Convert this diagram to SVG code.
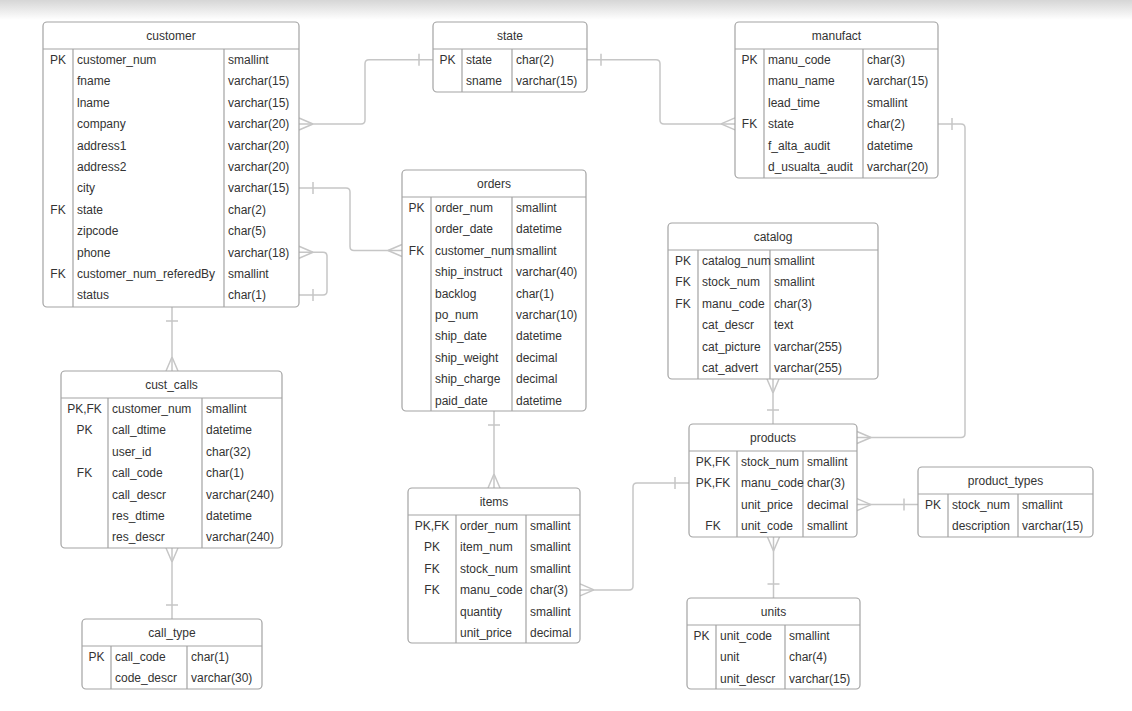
<svg xmlns="http://www.w3.org/2000/svg" width="1132" height="711" viewBox="0 0 1132 711">
  <defs>
    <linearGradient id="topShade" x1="0" y1="0" x2="0" y2="1">
      <stop offset="0" stop-color="#d6d6d6"/>
      <stop offset="1" stop-color="#ffffff"/>
    </linearGradient>
    <!-- crow's foot (many) : path end sits on the table edge -->
    <marker id="many" markerUnits="userSpaceOnUse" orient="auto-start-reverse" refX="0" refY="0" markerWidth="20" markerHeight="16" viewBox="-16 -8 20 16" overflow="visible">
      <path d="M-14,0 L0,-6 M-14,0 L0,6" fill="none" stroke="#c6c6c6" stroke-width="1.5"/>
    </marker>
    <!-- single bar (one) -->
    <marker id="one" markerUnits="userSpaceOnUse" orient="auto-start-reverse" refX="0" refY="0" markerWidth="20" markerHeight="16" viewBox="-16 -8 20 16" overflow="visible">
      <path d="M-14,-6 L-14,6" fill="none" stroke="#c6c6c6" stroke-width="1.5"/>
    </marker>
  </defs>
  <style>
    text { font-family: "Liberation Sans", Arial, sans-serif; font-size: 12px; fill: #333333; }
    .box { fill: #ffffff; stroke: #a3a3a3; stroke-width: 1.2; }
    .sep { stroke: #a3a3a3; stroke-width: 1.2; fill: none; }
    .hd { text-anchor: middle; }
    .k { text-anchor: middle; }
    .link { fill: none; stroke: #c6c6c6; stroke-width: 1.5; marker-start: url(#many); marker-end: url(#one); }
    .one-many { marker-start: url(#one); marker-end: url(#many); }
  </style>

  <rect x="0" y="0" width="1132" height="711" fill="#ffffff"/>
  <rect x="0" y="0" width="1132" height="20" fill="url(#topShade)"/>

  <!-- relationships -->
  <g id="connectors">
    <path class="link" d="M299,124 H361 Q365,124 365,120 V63.7 Q365,59.7 369,59.7 H433"/>
    <path class="link one-many" d="M587,59.7 H656 Q660,59.7 660,63.7 V119.9 Q660,123.9 664,123.9 H735"/>
    <path class="link one-many" d="M299,188.1 H346 Q350,188.1 350,192.1 V246.5 Q350,250.5 354,250.5 H402"/>
    <path class="link" d="M299,252.3 H323 Q327,252.3 327,256.3 V291.1 Q327,295.1 323,295.1 H299"/>
    <path class="link one-many" d="M172,307 V371"/>
    <path class="link" d="M172,548 V619"/>
    <path class="link one-many" d="M494,411 V488"/>
    <path class="link" d="M580,589.9 H629 Q633,589.9 633,585.9 V487.1 Q633,483.1 637,483.1 H689"/>
    <path class="link" d="M773,379 V424"/>
    <path class="link one-many" d="M938,123.9 H961 Q965,123.9 965,127.9 V433.5 Q965,437.5 961,437.5 H857"/>
    <path class="link" d="M857,504.6 H918"/>
    <path class="link" d="M773.5,537 V598"/>
  </g>

  <!-- customer -->
  <g id="customer">
    <rect class="box" x="43" y="22" width="256" height="285" rx="4"/>
    <path class="sep" d="M43,49 H299 M73,49 V307 M224,49 V307"/>
    <text class="hd" x="171" y="40">customer</text>
    <text class="k" x="58" y="64">PK</text>
    <text class="k" x="58" y="213.8">FK</text>
    <text class="k" x="58" y="278">FK</text>
    <text x="77" y="64">customer_num</text>
    <text x="77" y="85.4">fname</text>
    <text x="77" y="106.8">lname</text>
    <text x="77" y="128.2">company</text>
    <text x="77" y="149.6">address1</text>
    <text x="77" y="171">address2</text>
    <text x="77" y="192.4">city</text>
    <text x="77" y="213.8">state</text>
    <text x="77" y="235.2">zipcode</text>
    <text x="77" y="256.6">phone</text>
    <text x="77" y="278">customer_num_referedBy</text>
    <text x="77" y="299.4">status</text>
    <text x="228" y="64">smallint</text>
    <text x="228" y="85.4">varchar(15)</text>
    <text x="228" y="106.8">varchar(15)</text>
    <text x="228" y="128.2">varchar(20)</text>
    <text x="228" y="149.6">varchar(20)</text>
    <text x="228" y="171">varchar(20)</text>
    <text x="228" y="192.4">varchar(15)</text>
    <text x="228" y="213.8">char(2)</text>
    <text x="228" y="235.2">char(5)</text>
    <text x="228" y="256.6">varchar(18)</text>
    <text x="228" y="278">smallint</text>
    <text x="228" y="299.4">char(1)</text>
  </g>

  <!-- state -->
  <g id="state">
    <rect class="box" x="433" y="22" width="154" height="70" rx="4"/>
    <path class="sep" d="M433,49 H587 M462,49 V92 M512,49 V92"/>
    <text class="hd" x="510" y="40">state</text>
    <text class="k" x="447.5" y="64">PK</text>
    <text x="466" y="64">state</text>
    <text x="466" y="85.4">sname</text>
    <text x="516" y="64">char(2)</text>
    <text x="516" y="85.4">varchar(15)</text>
  </g>

  <!-- manufact -->
  <g id="manufact">
    <rect class="box" x="735" y="22" width="203" height="156" rx="4"/>
    <path class="sep" d="M735,49 H938 M764,49 V178 M863,49 V178"/>
    <text class="hd" x="836.5" y="40">manufact</text>
    <text class="k" x="749.5" y="64">PK</text>
    <text class="k" x="749.5" y="128.2">FK</text>
    <text x="768" y="64">manu_code</text>
    <text x="768" y="85.4">manu_name</text>
    <text x="768" y="106.8">lead_time</text>
    <text x="768" y="128.2">state</text>
    <text x="768" y="149.6">f_alta_audit</text>
    <text x="768" y="171">d_usualta_audit</text>
    <text x="867" y="64">char(3)</text>
    <text x="867" y="85.4">varchar(15)</text>
    <text x="867" y="106.8">smallint</text>
    <text x="867" y="128.2">char(2)</text>
    <text x="867" y="149.6">datetime</text>
    <text x="867" y="171">varchar(20)</text>
  </g>

  <!-- orders -->
  <g id="orders">
    <rect class="box" x="402" y="170" width="184" height="241" rx="4"/>
    <path class="sep" d="M402,197 H586 M431,197 V411 M512,197 V411"/>
    <text class="hd" x="494" y="188">orders</text>
    <text class="k" x="416.5" y="212">PK</text>
    <text class="k" x="416.5" y="254.8">FK</text>
    <text x="435" y="212">order_num</text>
    <text x="435" y="233.4">order_date</text>
    <text x="435" y="254.8">customer_num</text>
    <text x="435" y="276.2">ship_instruct</text>
    <text x="435" y="297.6">backlog</text>
    <text x="435" y="319">po_num</text>
    <text x="435" y="340.4">ship_date</text>
    <text x="435" y="361.8">ship_weight</text>
    <text x="435" y="383.2">ship_charge</text>
    <text x="435" y="404.6">paid_date</text>
    <text x="516" y="212">smallint</text>
    <text x="516" y="233.4">datetime</text>
    <text x="516" y="254.8">smallint</text>
    <text x="516" y="276.2">varchar(40)</text>
    <text x="516" y="297.6">char(1)</text>
    <text x="516" y="319">varchar(10)</text>
    <text x="516" y="340.4">datetime</text>
    <text x="516" y="361.8">decimal</text>
    <text x="516" y="383.2">decimal</text>
    <text x="516" y="404.6">datetime</text>
  </g>

  <!-- catalog -->
  <g id="catalog">
    <rect class="box" x="668" y="223" width="210" height="156" rx="4"/>
    <path class="sep" d="M668,250 H878 M698,250 V379 M770,250 V379"/>
    <text class="hd" x="773" y="241">catalog</text>
    <text class="k" x="683" y="265">PK</text>
    <text class="k" x="683" y="286.4">FK</text>
    <text class="k" x="683" y="307.8">FK</text>
    <text x="702" y="265">catalog_num</text>
    <text x="702" y="286.4">stock_num</text>
    <text x="702" y="307.8">manu_code</text>
    <text x="702" y="329.2">cat_descr</text>
    <text x="702" y="350.6">cat_picture</text>
    <text x="702" y="372">cat_advert</text>
    <text x="774" y="265">smallint</text>
    <text x="774" y="286.4">smallint</text>
    <text x="774" y="307.8">char(3)</text>
    <text x="774" y="329.2">text</text>
    <text x="774" y="350.6">varchar(255)</text>
    <text x="774" y="372">varchar(255)</text>
  </g>

  <!-- cust_calls -->
  <g id="cust_calls">
    <rect class="box" x="61" y="371" width="221" height="177" rx="4"/>
    <path class="sep" d="M61,398 H282 M108,398 V548 M202,398 V548"/>
    <text class="hd" x="171.5" y="389">cust_calls</text>
    <text class="k" x="84.5" y="413">PK,FK</text>
    <text class="k" x="84.5" y="434.4">PK</text>
    <text class="k" x="84.5" y="477.2">FK</text>
    <text x="112" y="413">customer_num</text>
    <text x="112" y="434.4">call_dtime</text>
    <text x="112" y="455.8">user_id</text>
    <text x="112" y="477.2">call_code</text>
    <text x="112" y="498.6">call_descr</text>
    <text x="112" y="520">res_dtime</text>
    <text x="112" y="541.4">res_descr</text>
    <text x="206" y="413">smallint</text>
    <text x="206" y="434.4">datetime</text>
    <text x="206" y="455.8">char(32)</text>
    <text x="206" y="477.2">char(1)</text>
    <text x="206" y="498.6">varchar(240)</text>
    <text x="206" y="520">datetime</text>
    <text x="206" y="541.4">varchar(240)</text>
  </g>

  <!-- call_type -->
  <g id="call_type">
    <rect class="box" x="82" y="619" width="180" height="70" rx="4"/>
    <path class="sep" d="M82,646 H262 M111,646 V689 M187,646 V689"/>
    <text class="hd" x="172" y="637">call_type</text>
    <text class="k" x="96.5" y="661">PK</text>
    <text x="115" y="661">call_code</text>
    <text x="115" y="682.4">code_descr</text>
    <text x="191" y="661">char(1)</text>
    <text x="191" y="682.4">varchar(30)</text>
  </g>

  <!-- items -->
  <g id="items">
    <rect class="box" x="408" y="488" width="172" height="155" rx="4"/>
    <path class="sep" d="M408,515 H580 M456,515 V643 M526,515 V643"/>
    <text class="hd" x="494" y="506">items</text>
    <text class="k" x="432" y="530">PK,FK</text>
    <text class="k" x="432" y="551.4">PK</text>
    <text class="k" x="432" y="572.8">FK</text>
    <text class="k" x="432" y="594.2">FK</text>
    <text x="460" y="530">order_num</text>
    <text x="460" y="551.4">item_num</text>
    <text x="460" y="572.8">stock_num</text>
    <text x="460" y="594.2">manu_code</text>
    <text x="460" y="615.6">quantity</text>
    <text x="460" y="637">unit_price</text>
    <text x="530" y="530">smallint</text>
    <text x="530" y="551.4">smallint</text>
    <text x="530" y="572.8">smallint</text>
    <text x="530" y="594.2">char(3)</text>
    <text x="530" y="615.6">smallint</text>
    <text x="530" y="637">decimal</text>
  </g>

  <!-- products -->
  <g id="products">
    <rect class="box" x="689" y="424" width="168" height="113" rx="4"/>
    <path class="sep" d="M689,451 H857 M737,451 V537 M803,451 V537"/>
    <text class="hd" x="773" y="442">products</text>
    <text class="k" x="713" y="466">PK,FK</text>
    <text class="k" x="713" y="487.4">PK,FK</text>
    <text class="k" x="713" y="530.2">FK</text>
    <text x="741" y="466">stock_num</text>
    <text x="741" y="487.4">manu_code</text>
    <text x="741" y="508.8">unit_price</text>
    <text x="741" y="530.2">unit_code</text>
    <text x="807" y="466">smallint</text>
    <text x="807" y="487.4">char(3)</text>
    <text x="807" y="508.8">decimal</text>
    <text x="807" y="530.2">smallint</text>
  </g>

  <!-- product_types -->
  <g id="product_types">
    <rect class="box" x="918" y="467" width="175" height="70" rx="4"/>
    <path class="sep" d="M918,494 H1093 M948,494 V537 M1018,494 V537"/>
    <text class="hd" x="1005.5" y="485">product_types</text>
    <text class="k" x="933" y="509">PK</text>
    <text x="952" y="509">stock_num</text>
    <text x="952" y="530.4">description</text>
    <text x="1022" y="509">smallint</text>
    <text x="1022" y="530.4">varchar(15)</text>
  </g>

  <!-- units -->
  <g id="units">
    <rect class="box" x="687" y="598" width="173" height="91" rx="4"/>
    <path class="sep" d="M687,625 H860 M716,625 V689 M785,625 V689"/>
    <text class="hd" x="773.5" y="616">units</text>
    <text class="k" x="701.5" y="640">PK</text>
    <text x="720" y="640">unit_code</text>
    <text x="720" y="661.4">unit</text>
    <text x="720" y="682.8">unit_descr</text>
    <text x="789" y="640">smallint</text>
    <text x="789" y="661.4">char(4)</text>
    <text x="789" y="682.8">varchar(15)</text>
  </g>
</svg>
